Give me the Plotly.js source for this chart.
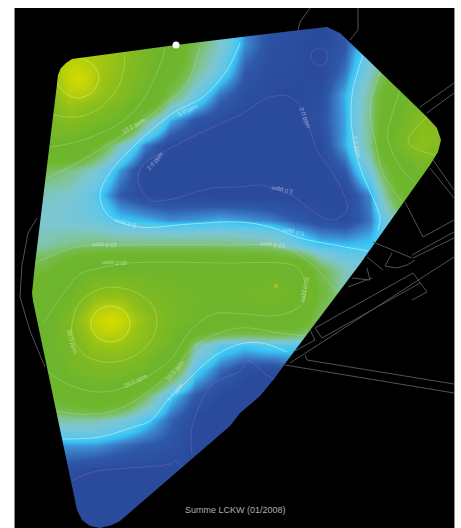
<!DOCTYPE html>
<html><head><meta charset="utf-8">
<script src="https://cdn.plot.ly/plotly-3.0.1.min.js"></script>
<style>html,body{margin:0;padding:0;background:#fff}</style></head>
<body><div id="g" style="width:461px;height:528px"></div>
<script>
const gridX = [20,45,70,95,120,145,170,195,220,245,270,295,320,345,370,395,420,445];
const gridY = [20,45,70,95,120,145,170,195,220,245,270,295,320,345,370,395,420,445,470,495,520];
const ppm = [
 [28,30,36,35,31,25,20,13,8,4,2.6,2.4,2.0,2.8,5.5,9,14,17],
 [28,30,38,36,31,24,19,11,7.5,4,2.5,2.3,1.9,3,6,10,15,18],
 [25,32,40,36,30,24,16,9.5,6.2,3,2.3,2.2,1.9,3.5,7.5,13,18,20],
 [20,26,36,33,28,21,11,6.5,3.5,2.4,2.1,2,2.3,4.6,9,19,24,26],
 [20,24,29,25,20.5,9.8,4.6,2.8,2.2,1.9,1.8,1.9,2.6,4.4,9.5,20,28,30],
 [20,21,20,14,8,3.8,2,1.9,1.8,1.8,1.8,1.8,2.1,4.5,9.2,23,30.5,28],
 [12,11,9.5,7.5,4.2,1.9,1.8,1.8,1.8,1.8,1.8,1.8,1.9,3,7,15,22,22],
 [7,8,7.5,5.6,3,2.1,1.9,2,1.8,1.8,1.8,1.9,1.9,1.95,4,12,17,18],
 [7,7.5,7,6.5,5,4.6,4,4.2,4.5,4.2,3.8,3,2.4,2.2,3.6,8,12,12],
 [9,8.5,9.5,10,10,10,10,10,10,9.6,9.2,6.5,5,4.8,5,7,9,9],
 [12,13,17,21,21,21,21,20.5,20.5,20.5,20.3,19.5,11.5,8,7,8,9,9],
 [14,18,21,30,31,26,23,22,22,22,24,21,13,8,7,7,7,7],
 [15,18,27,38,40,31,25,21,19,19,19,18,10,6,5,5,5,5],
 [14,20,24,32,33,29,22,9,5.8,5.1,5.7,5.5,7,5,4,4,4,4],
 [14,15,23,25,25,22,14,5.5,3.4,2.3,2.1,3,4,3,3,3,3,3],
 [12,13,16,19,17,11,5.2,3,2.1,1.8,1.8,2.2,3,3,3,3,3,3],
 [8,8.5,8.7,8.5,7.3,5.3,3.3,2,1.7,1.7,2,2,2,2,2,2,2,2],
 [4,4,4.2,4.2,3.5,3,2.7,1.9,1.8,1.8,1.8,1.8,1.8,1.8,1.8,1.8,1.8,1.8],
 [2.5,2.5,2.4,2,2.05,2.05,1.95,2.1,2.1,2,2,2,2,2,2,2,2,2],
 [1.8,1.8,1.8,1.8,1.8,1.8,1.8,1.8,1.8,1.8,1.8,1.8,1.8,1.8,1.8,1.8,1.8,1.8],
 [1.7,1.7,1.7,1.7,1.7,1.7,1.7,1.7,1.7,1.7,1.7,1.7,1.7,1.7,1.7,1.7,1.7,1.7]
];
const ppmStops = [0,2,3,4,4.7,5.2,6,7.5,9,11,14,20,28,35,42,50];
const ppmColors = ['#2a4a9c','#2a4a9c','#2f58a8','#3d8ad0','#38bdf0','#45c8f2','#66c6e4','#7cc6d2','#80c49a','#78bc50','#6eb62c','#6db52c','#82bb20','#a4c810','#c4d400','#dcdc00'];

// Outline of the measured area
const areaX = [57,58,61,66,72,78,176,300,327,340,350,363,427,437,441,438,430,360,290,274,260,240,230,120,112,100,90,82,77,74,73,33,32,33,35,57];
const areaY = [84,75,68,63,59,58,45,30,27,33,42,55,117,128,140,152,165,264,357,379,396,413,426,521,525,528,526,520,510,498,494,301,293,285,264,84];

// Isolines
const isolines = [
 {lvl:2,x:[240,217,167,143,138,150,167,213,240,260,290,330,347,337,317,303,290,270,240],y:[115,125,150,165,180,200,200,188,187,185,195,220,210,180,150,110,97,97,115]},
 {lvl:2,x:[320,327,327,320,313,311,313,320],y:[48,52,61,66,62,56,51,48]},
 {lvl:2,x:[192,192,213,240,247,267,285],y:[454,427,384,371,361,375,385]},
 {lvl:2,x:[72,93,170,175,185],y:[481,472,464,461,470]},
 {lvl:5,x:[240,227,203,173,133,107,100,110,140,190,240,270,300,340,368],y:[43,70,97,113,147,177,197,217,227,224,222,227,238,246,251]},
 {lvl:5,x:[363,352,352,360,378,380,378],y:[55,95,130,167,210,218,230]},
 {lvl:5,x:[63,100,133,150,167,187,213,240,262,287],y:[439,437,427,421,401,381,357,344,343,352]},
 {lvl:10,x:[200,187,157,123,77,47],y:[47,83,110,135,163,178]},
 {lvl:10,x:[35,77,120,230,280,303,327,338],y:[263,247,245,245,246,257,280,292]},
 {lvl:10,x:[57,77,110,133,165,200,240,280,315],y:[411,414,412,402,378,342,328,333,337]},
 {lvl:10,x:[380,370,375,383,403],y:[73,107,140,173,203]},
 {lvl:20,x:[165,163,143,120,83,50],y:[48,57,100,123,140,147]},
 {lvl:20,x:[43,63,80,100,130,230,280,297,305,303,280,230,213,190,170,133,100,67,47],y:[324,294,274,268,263,263,263,267,283,303,315,313,314,331,360,384,392,384,371]},
 {lvl:20,x:[400,388,388,400,415],y:[90,130,140,167,183]},
 {lvl:30,x:[53,77,100,120,125],y:[115,117,108,83,55]},
 {lvl:30,x:[111,135,152,157,150,130,105,85,72,78,95,111],y:[287,292,305,322,342,358,362,355,335,305,291,287]},
 {lvl:30,x:[427,408,413,435],y:[117,140,147,155]},
 {lvl:40,x:[78,92,99,92,78,64,57,60,65,78],y:[58,64,78,92,98,92,82,70,62,58]},
 {lvl:40,x:[111,124,130,124,111,97,91,97,111],y:[306,311,324,337,342,337,324,311,306]}
];
const isoColors = {2:'rgba(165,115,175,0.4)',5:'rgba(170,238,255,0.75)',10:'rgba(185,225,205,0.4)',20:'rgba(195,228,135,0.45)',30:'rgba(215,225,90,0.55)',40:'rgba(235,235,120,0.7)'};

// Isoline labels: text, map position, rotation
const labelText = ['10.0 ppm','5.0 ppm','2.0 ppm','5.0 ppm','10.0 ppm','20.0 ppm','2.0 ppm','5.0 ppm','2.0 ppm','5.0 ppm','10.0 ppm','30.0 ppm','20.0 ppm','10.0 ppm','5.0 ppm','20.0 ppm'];
const labelX = [133,188,155,125,105,115,305,357,282,293,273,72,135,175,175,305];
const labelY = [126,110,161,223,245,263,118,147,190,232,245,341,381,371,392,289];
const labelAngle = [-30,-25,-50,195,180,180,70,80,190,190,185,75,-25,-50,-50,100];

// Site plan linework behind the map
const planLines = [
 {x:[37,28,23,22,20,30,45],y:[218,233,260,264,297,331,367]},
 {x:[310,300,298],y:[8,22,30]},
 {x:[358,358,350],y:[8,30,40]},
 {x:[420,454],y:[107,83]},
 {x:[427,454],y:[113,93]},
 {x:[433,454],y:[160,190]},
 {x:[430,454],y:[168,198]},
 {x:[405,423,454],y:[202,237,220]},
 {x:[373,412],y:[242,258]},
 {x:[412,454],y:[255,232]},
 {x:[413,454],y:[258,238]},
 {x:[392,385,397,407,415],y:[253,266,268,265,260]},
 {x:[367,383],y:[257,270]},
 {x:[352,370,367],y:[278,280,268]},
 {x:[348,372],y:[287,278]},
 {x:[315,413],y:[328,273]},
 {x:[322,420],y:[338,283]},
 {x:[315,322],y:[328,338]},
 {x:[413,427,412],y:[273,292,300]},
 {x:[293,315,310],y:[352,340,330]},
 {x:[290,454],y:[363,257]},
 {x:[305,307,454],y:[355,360,384]},
 {x:[285,454],y:[365,393]}
];

const footerText = 'Summe LCKW (01/2008)';
const pinX = [176], pinY = [45];
const hotX = [276], hotY = [286];
const peakX = [110,79], peakY = [322,80], peakSize = [50,46];
const panelX = [15,454], panelY = [8,528];

const zMax = ppmStops[ppmStops.length-1];
const colorscale = ppmStops.map((s,i)=>[s/zMax,ppmColors[i]]);

// Black cover around the outline, joined to the outer frame by a seam; outline runs the opposite way round so it stays open
const maskX = [panelX[0],panelX[1],panelX[1],panelX[0],panelX[0]].concat(areaX.slice().reverse(),[panelX[0]]);
const maskY = [panelY[0],panelY[0],panelY[1],panelY[1],panelY[0]].concat(areaY.slice().reverse(),[panelY[0]]);

const traces = [
 {type:'heatmap',x:gridX,y:gridY,z:ppm,zmin:0,zmax:zMax,zsmooth:'best',colorscale:colorscale,showscale:false,hoverinfo:'skip'},
 {type:'scatter',mode:'markers',x:peakX,y:peakY,hoverinfo:'skip',
  marker:{size:peakSize,color:'rgba(224,224,0,0)',line:{width:0},gradient:{type:'radial',color:'rgba(224,224,0,1)'}}}
];
isolines.forEach(l=>traces.push({type:'scatter',mode:'lines',x:l.x,y:l.y,hoverinfo:'skip',
  line:{shape:'spline',smoothing:1,color:isoColors[l.lvl],width:l.lvl===5?1:0.8}}));
traces.push({type:'scatter',mode:'markers',x:hotX,y:hotY,marker:{size:4,color:'#a6c41c'},hoverinfo:'skip'});
traces.push({type:'scatter',mode:'lines',x:maskX,y:maskY,fill:'toself',fillcolor:'#000',line:{width:0,color:'#000'},hoverinfo:'skip'});
planLines.forEach(l=>traces.push({type:'scatter',mode:'lines',x:l.x,y:l.y,hoverinfo:'skip',line:{color:'#525252',width:1}}));
traces.push({type:'scatter',mode:'markers',x:pinX,y:pinY,marker:{size:7,color:'#fff'},hoverinfo:'skip'});

const annotations = labelText.map((t,i)=>({x:labelX[i],y:labelY[i],xref:'x',yref:'y',text:t,textangle:labelAngle[i],showarrow:false,
  font:{family:'Liberation Sans',size:6,color:'rgba(255,255,255,0.5)'}}));
annotations.push({x:235,y:510,xref:'x',yref:'y',text:footerText,showarrow:false,font:{family:'Liberation Sans',size:9,color:'#aeaeae'}});

Plotly.newPlot('g',traces,{
 width:461,height:528,margin:{l:15,r:7,t:8,b:0,pad:0},
 paper_bgcolor:'#fff',plot_bgcolor:'#000',showlegend:false,
 xaxis:{range:panelX,visible:false,fixedrange:true},
 yaxis:{range:[panelY[1],panelY[0]],showgrid:false,zeroline:false,showticklabels:false,ticks:'',showline:true,mirror:true,linecolor:'#8a8a8a',linewidth:1,fixedrange:true},
 annotations:annotations
},{displayModeBar:false,staticPlot:true});
</script></body></html>
